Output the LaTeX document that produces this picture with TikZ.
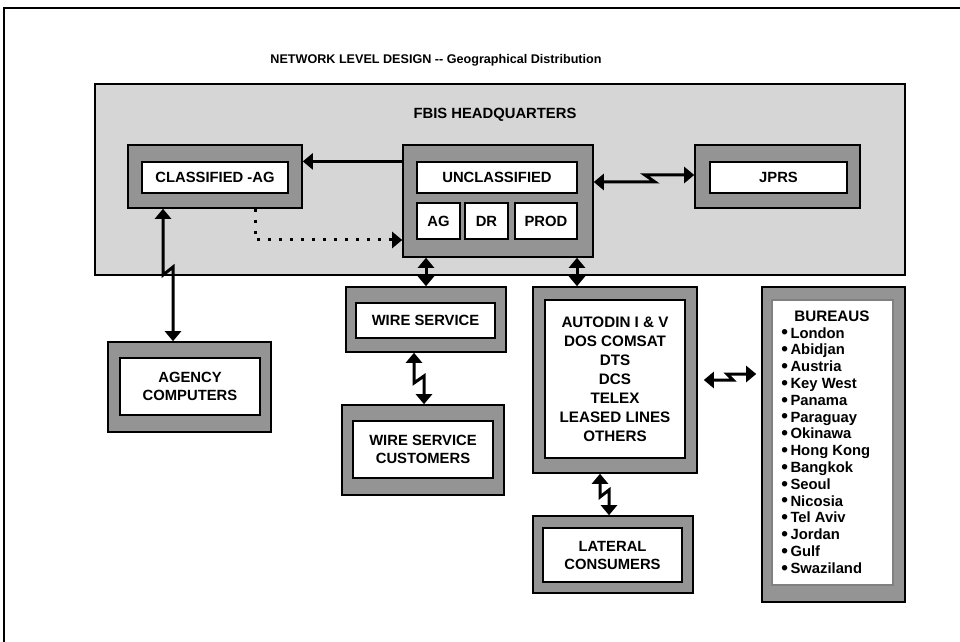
\documentclass[tikz,border=0pt]{standalone}
\usepackage{fontspec}
\setmainfont{Liberation Sans}
\usetikzlibrary{arrows.meta}

\newcommand{\bul}{\smash{\fontsize{9.5}{8}\selectfont\raisebox{-0.4pt}{\textbullet}}\,}

\begin{document}
\begin{tikzpicture}[x = 0.5pt,
                    y = -0.5pt,
                    font = \bfseries]

  \useasboundingbox (0,0) rectangle (960,642);

  % COLORS
  \definecolor{hqcolor}{gray}{0.84}
  \definecolor{framecolor}{gray}{0.58}

  % STYLES
  \tikzstyle{outerbox} = [draw=black, fill=framecolor, line width=0.8pt, inner sep=0pt]
  \tikzstyle{innerbox} = [draw=black, fill=white, line width=0.6pt, inner sep=0pt, align=center, font=\fontsize{7.4}{9}\selectfont\bfseries]
  \tikzstyle{link} = [line width=1.5pt, line join=miter, {Triangle[width=8pt,length=5pt]}-{Triangle[width=8pt,length=5pt]}]
  \tikzstyle{onelink} = [line width=1.5pt, -{Triangle[width=8pt,length=5pt]}]
  \tikzstyle{dotlink} = [line width=1.5pt, dash pattern=on 1.5pt off 4pt, -{Triangle[width=8pt,length=5pt]}]

  % FRAME
  \draw[line width=1pt] (4,642) -- (4,8) -- (960,8);

  % TITLE
  \node[font=\fontsize{6.3}{8}\selectfont\bfseries] (title) at (436,60) {NETWORK LEVEL DESIGN -\kern0pt- Geographical Distribution};

  % HEADQUARTERS
  \node[draw=black, fill=hqcolor, line width=0.8pt, minimum width=405pt, minimum height=95.5pt] (hq) at (500,179.5) {};
  \node[font=\fontsize{7.4}{9}\selectfont\bfseries] (hqlabel) at (495,115) {FBIS HEADQUARTERS};

  % BOXES
  \node[outerbox, minimum width=87pt, minimum height=31.5pt] (clsout) at (215,176.5) {};
  \node[innerbox, minimum width=73pt, minimum height=15.5pt] (cls) at (215,177.5) {CLASSIFIED -AG};

  \node[outerbox, minimum width=95pt, minimum height=56pt] (unclout) at (498,201) {};
  \node[innerbox, minimum width=80pt, minimum height=15.5pt] (uncl) at (497,177.5) {UNCLASSIFIED};
  \node[innerbox, minimum width=21.5pt, minimum height=18pt] (ag) at (438.5,221) {AG};
  \node[innerbox, minimum width=21.5pt, minimum height=18pt] (dr) at (486.5,221) {DR};
  \node[innerbox, minimum width=31pt, minimum height=18pt] (prod) at (546,221) {PROD};

  \node[outerbox, minimum width=82.5pt, minimum height=31.5pt] (jprsout) at (777.5,176.5) {};
  \node[innerbox, minimum width=68.5pt, minimum height=15.5pt] (jprs) at (778.5,177.5) {JPRS};

  \node[outerbox, minimum width=81.5pt, minimum height=45pt] (agcout) at (189.5,387) {};
  \node[innerbox, minimum width=70pt, minimum height=28.5pt] (agc) at (190,386.5) {AGENCY\\COMPUTERS};

  \node[outerbox, minimum width=80pt, minimum height=32.5pt] (wsout) at (426,319.5) {};
  \node[innerbox, minimum width=69.5pt, minimum height=17.5pt] (ws) at (425.5,320.5) {WIRE SERVICE};

  \node[outerbox, minimum width=81pt, minimum height=45pt] (wscout) at (423,450) {};
  \node[innerbox, minimum width=70pt, minimum height=28.5pt] (wsc) at (423,449.5) {WIRE SERVICE\\CUSTOMERS};

  \node[outerbox, minimum width=82pt, minimum height=93pt] (autout) at (615,380) {};
  \node[innerbox, minimum width=70pt, minimum height=79pt, font=\fontsize{7.6}{9.5}\selectfont\bfseries] (aut) at (615,379)
    {AUTODIN I \& V\\DOS COMSAT\\DTS\\DCS\\TELEX\\LEASED LINES\\OTHERS};

  \node[outerbox, minimum width=80pt, minimum height=38.5pt] (latout) at (613,554.5) {};
  \node[innerbox, minimum width=69.5pt, minimum height=27pt] (lat) at (612.5,555) {LATERAL\\CONSUMERS};

  \node[outerbox, minimum width=71.5pt, minimum height=157.5pt] (burout) at (833.5,444.5) {};
  \node[innerbox, draw=gray, minimum width=60.5pt, minimum height=142.5pt] (bur) at (832.5,442.5) {};
  \node[font=\fontsize{7.6}{8.4}\selectfont\bfseries] (burhead) at (832,316) {BUREAUS};
  \node[font=\fontsize{7.4}{8.4}\selectfont\bfseries, anchor=north west, align=left, inner sep=0pt] (burlist) at (781,327)
    {\bul London\\\bul Abidjan\\\bul Austria\\\bul Key West\\\bul Panama\\
     \bul Paraguay\\\bul Okinawa\\\bul Hong Kong\\\bul Bangkok\\\bul Seoul\\
     \bul Nicosia\\\bul Tel Aviv\\\bul Jordan\\\bul Gulf\\\bul Swaziland};

  % KINKS
  \coordinate (dk) at (255,240);
  \coordinate (jk1) at (655,182);
  \coordinate (jk2) at (645,175);
  \coordinate (ak1) at (163,275);
  \coordinate (ak2) at (173,267);
  \coordinate (uk) at (577,272);
  \coordinate (wk1) at (414,383);
  \coordinate (wk2) at (424,376);
  \coordinate (lk1) at (600,497);
  \coordinate (lk2) at (609,490);
  \coordinate (bk1) at (733,380);
  \coordinate (bk2) at (727,374);

  % CONNECTORS
  \draw[onelink] (unclout.west |- cls.north) -- (clsout.east |- cls.north);
  \draw[dotlink] (clsout.south -| dk) -- (dk) -- (unclout.west |- dk);
  \draw[link] (unclout.east |- jk1) -- (jk1) -- (jk2) -- (jprsout.west |- jk2);
  \draw[link] (clsout.south -| ak1) -- (ak1) -- (ak2) -- (agcout.north -| ak2);
  \draw[link] (unclout.south -| wsout.north) -- (wsout.north);
  \draw[link] (unclout.south -| uk) -- (autout.north -| uk);
  \draw[link] (wsout.south -| wk1) -- (wk1) -- (wk2) -- (wscout.north -| wk2);
  \draw[link] (autout.south -| lk1) -- (lk1) -- (lk2) -- (latout.north -| lk2);
  \draw[link, shorten <=3pt, shorten >=2.5pt] (autout.east |- bk1) -- (bk1) -- (bk2) -- (burout.west |- bk2);

\end{tikzpicture}
\end{document}
